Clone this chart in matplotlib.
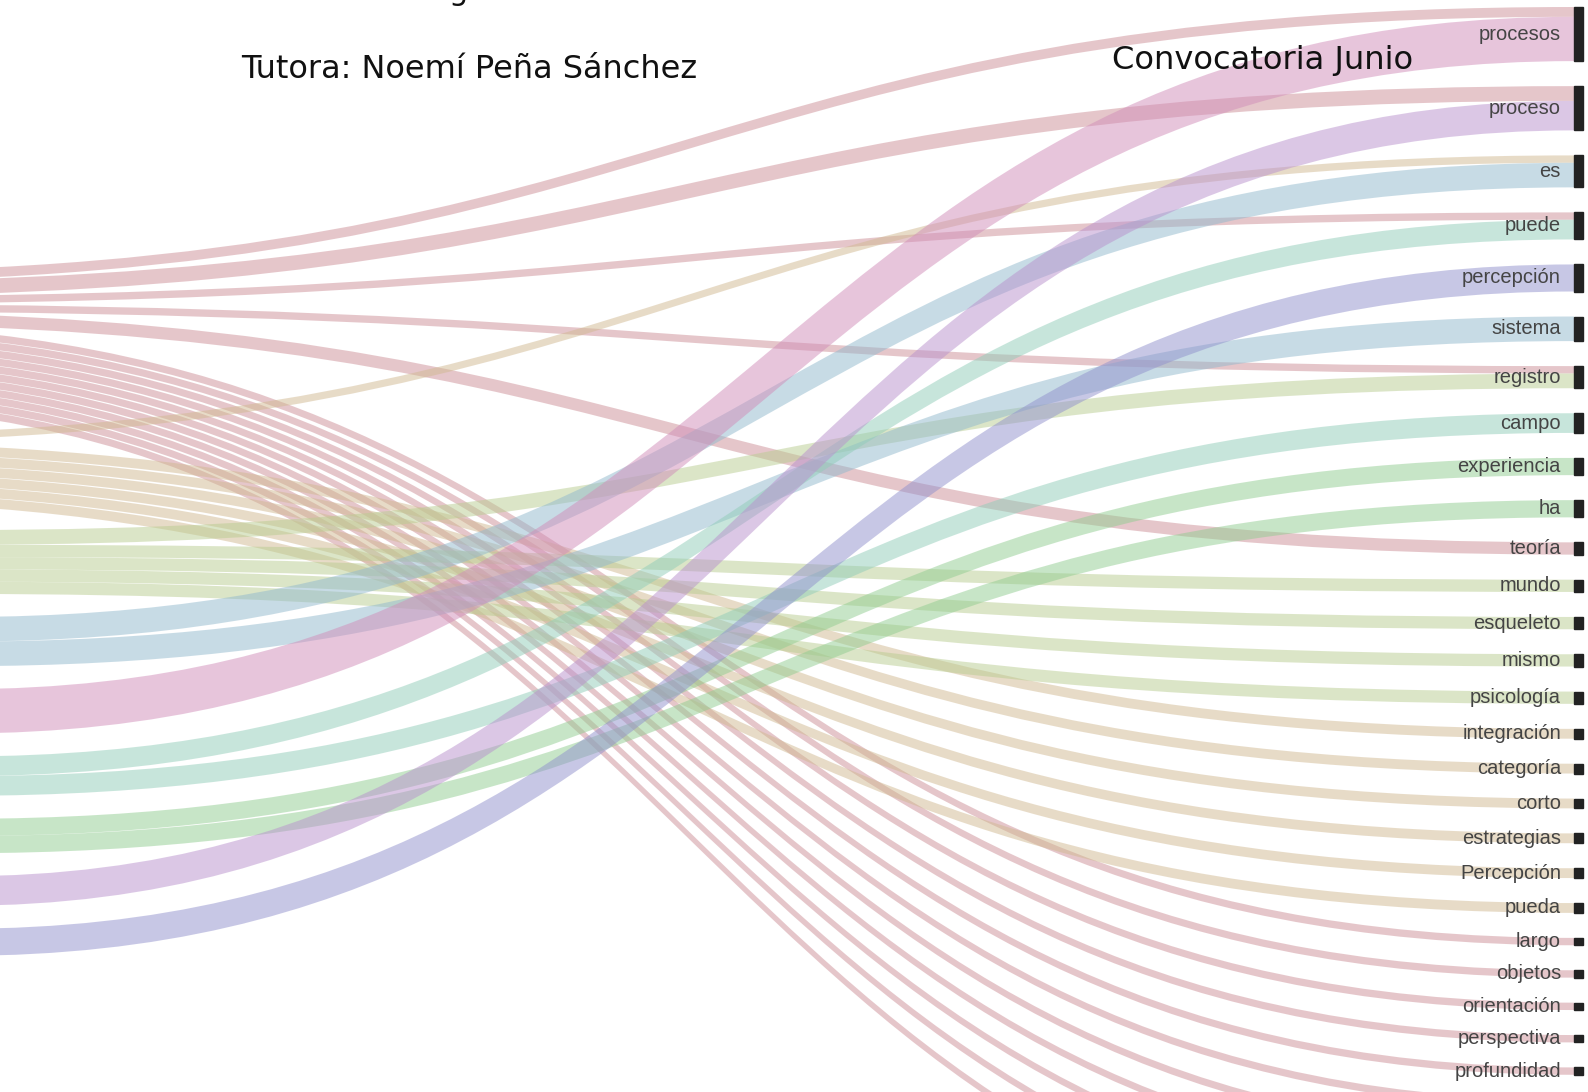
import numpy as np
import matplotlib.pyplot as plt
from matplotlib.path import Path
from matplotlib.patches import PathPatch

# --- data -------------------------------------------------------------
# source nodes (they sit left of the visible area, only their links show)
sources = ["s1", "s2", "s3", "s4", "s5", "s6", "s7", "s8", "s9"]

# target words, top to bottom (the last ones fall below the visible area)
targets = ["procesos", "proceso", "es", "puede", "percepción", "sistema",
           "registro", "campo", "experiencia", "ha", "teoría", "mundo",
           "esqueleto", "mismo", "psicología", "integración", "categoría",
           "corto", "estrategias", "Percepción", "pueda", "largo", "objetos",
           "orientación", "perspectiva", "profundidad",
           "", "", "", "", "", ""]

link_src = [0, 0, 0, 0, 0, 0, 0, 0, 0, 0,
            0, 0, 0, 0, 0, 0,
            1, 1, 1, 1, 1, 1, 1,
            2, 2, 2, 2, 2,
            3, 3,
            4,
            5, 5,
            6, 6,
            7,
            8]
link_tgt = ["procesos", "proceso", "puede", "registro", "teoría", "largo",
            "objetos", "orientación", "perspectiva", "profundidad",
            26, 27, 28, 29, 30, 31,
            "es", "integración", "categoría", "corto", "estrategias",
            "Percepción", "pueda",
            "registro", "mundo", "esqueleto", "mismo", "psicología",
            "es", "sistema",
            "procesos",
            "puede", "campo",
            "experiencia", "ha",
            "proceso",
            "percepción"]
link_val = [4, 6, 3, 3, 5, 3, 3, 3, 3, 3,
            3, 3, 3, 3, 3, 3,
            3, 4, 4, 4, 4, 4, 4,
            6, 5, 5, 5, 5,
            10, 10,
            18,
            8, 8,
            7, 7,
            12,
            11]

# --- style / layout ---------------------------------------------------
src_colors = ["#cd8f97", "#d1b991", "#b9cd91", "#91b9cd", "#d18db9",
              "#91cdb9", "#91cd91", "#b991cd", "#9191cd"]
link_alpha = 0.5
k = 2.46            # pixels per unit
pad = 25            # gap between target nodes
tgt_top = 7
src_col = [0, 0, 1, 1, 1, 1, 1, 1, 1]
col_x = [-200, -40]
col_top = [272, 530]
col_pad = [30, 23]
x_tgt, node_w = 1574, 9

W, H = 1588, 1092
fig = plt.figure(figsize=(W / 100, H / 100), dpi=100)
ax = fig.add_axes([0, 0, 1, 1])
ax.set_xlim(0, W)
ax.set_ylim(H, 0)
ax.axis("off")

tidx = [t if isinstance(t, int) else targets.index(t) for t in link_tgt]
n_links = len(link_val)

src_tot = np.zeros(len(sources))
tgt_tot = np.zeros(len(targets))
for s, t, v in zip(link_src, tidx, link_val):
    src_tot[s] += v
    tgt_tot[t] += v

# stack target nodes
tgt_y = np.zeros(len(targets))
y = tgt_top
for t in range(len(targets)):
    tgt_y[t] = y
    y += tgt_tot[t] * k + pad

# stack source nodes column by column
src_y = np.zeros(len(sources))
for c in range(len(col_x)):
    y = col_top[c]
    for s in range(len(sources)):
        if src_col[s] == c:
            src_y[s] = y
            y += src_tot[s] * k + col_pad[c]

# offsets of each link inside its nodes
s_off = np.zeros(n_links)
t_off = np.zeros(n_links)
for s in range(len(sources)):
    ids = sorted([i for i in range(n_links) if link_src[i] == s], key=lambda i: tidx[i])
    y = src_y[s]
    for i in ids:
        s_off[i] = y
        y += link_val[i] * k
for t in range(len(targets)):
    ids = sorted([i for i in range(n_links) if tidx[i] == t], key=lambda i: link_src[i])
    y = tgt_y[t]
    for i in ids:
        t_off[i] = y
        y += link_val[i] * k

for i in range(n_links):
    w = link_val[i] * k
    x0 = col_x[src_col[link_src[i]]]
    xm = (x0 + x_tgt) / 2
    y0, y1 = s_off[i], t_off[i]
    verts = [(x0, y0), (xm, y0), (xm, y1), (x_tgt, y1),
             (x_tgt, y1 + w),
             (xm, y1 + w), (xm, y0 + w), (x0, y0 + w),
             (x0, y0)]
    codes = [Path.MOVETO, Path.CURVE4, Path.CURVE4, Path.CURVE4,
             Path.LINETO,
             Path.CURVE4, Path.CURVE4, Path.CURVE4,
             Path.CLOSEPOLY]
    ax.add_patch(PathPatch(Path(verts, codes), facecolor=src_colors[link_src[i]],
                           edgecolor="none", alpha=link_alpha))

# target nodes and labels
for t, name in enumerate(targets):
    h = tgt_tot[t] * k
    ax.add_patch(plt.Rectangle((x_tgt, tgt_y[t]), node_w, h, color="#222222"))
    ax.text(x_tgt - 13, tgt_y[t] + h / 2, name, ha="right", va="center",
            fontsize=14.5, family="Liberation Sans", color="#444444")

# overlaid cover texts
fig.canvas.draw()
def fit_text(x, y, s, width, **kw):
    t = ax.text(x, y, s, **kw)
    bb = t.get_window_extent(renderer=fig.canvas.get_renderer())
    t.set_fontsize(t.get_fontsize() * width / bb.width)
    return t

fit_text(241, 69, "Tutora: Noemí Peña Sánchez", 456, ha="left", va="center",
         fontsize=22, family="DejaVu Sans", color="#111111")
fit_text(1112, 61, "Convocatoria Junio", 301, ha="left", va="center",
         fontsize=22, family="DejaVu Sans", color="#111111")
ax.text(458, 0, "g", ha="center", va="baseline", fontsize=22,
        family="DejaVu Sans", color="#111111")

fig.savefig("out.png", dpi=100)
